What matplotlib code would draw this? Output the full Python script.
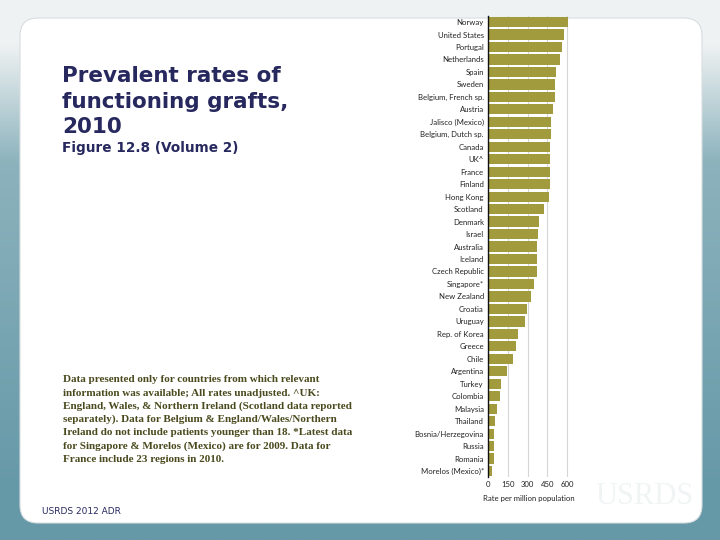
import matplotlib
matplotlib.use("Agg")
import matplotlib.pyplot as plt
import numpy as np
from matplotlib.patches import FancyBboxPatch

countries = ["Norway", "United States", "Portugal", "Netherlands", "Spain", "Sweden",
             "Belgium, French sp.", "Austria", "Jalisco (Mexico)", "Belgium, Dutch sp.",
             "Canada", "UK^", "France", "Finland", "Hong Kong", "Scotland", "Denmark",
             "Israel", "Australia", "Iceland", "Czech Republic", "Singapore*", "New Zealand",
             "Croatia", "Uruguay", "Rep. of Korea", "Greece", "Chile", "Argentina", "Turkey",
             "Colombia", "Malaysia", "Thailand", "Bosnia/Herzegovina", "Russia", "Romania",
             "Morelos (Mexico)*"]
rates = [605, 577, 565, 545, 515, 507, 505, 490, 482, 477, 470, 470, 470, 467, 465,
         425, 390, 380, 372, 370, 370, 350, 327, 297, 282, 230, 215, 192, 147, 102,
         90, 65, 50, 42, 42, 42, 27]
xticks = [0, 150, 300, 450, 600]

title = "Prevalent rates of\nfunctioning grafts,\n2010"
subtitle = "Figure 12.8 (Volume 2)"
note_lines = ["Data presented only for countries from which relevant",
              "information was available; All rates unadjusted. ^UK:",
              "England, Wales, & Northern Ireland (Scotland data reported",
              "separately). Data for Belgium & England/Wales/Northern",
              "Ireland do not include patients younger than 18. *Latest data",
              "for Singapore & Morelos (Mexico) are for 2009. Data for",
              "France include 23 regions in 2010."]
source = "USRDS 2012 ADR"

W, H = 720, 540
fig = plt.figure(figsize=(7.2, 5.4), dpi=100)

# background
bg = fig.add_axes([0, 0, 1, 1], zorder=0)
bg.set_xlim(0, W)
bg.set_ylim(H, 0)
bg.axis("off")
grad = np.linspace(0, 1, 256)
top = np.array([0.94, 0.95, 0.95])
mid = np.array([0.55, 0.70, 0.74])
bot = np.array([0.40, 0.60, 0.66])
t1 = np.clip((grad - 0.08) / 0.22, 0, 1)[:, None]
t2 = np.clip((grad - 0.30) / 0.6, 0, 1)[:, None]
img = top * (1 - t1) + mid * t1
img = img * (1 - t2) + bot * t2
bg.imshow(img[:, None, :].repeat(4, axis=1), extent=[0, W, H, 0], aspect="auto", zorder=0)
panel = FancyBboxPatch((34, 32), 654, 477, boxstyle="round,pad=14,rounding_size=18",
                       fc="white", ec="#d8dde0", lw=0.8, zorder=1)
bg.add_patch(panel)

bg.text(62, 66.5, title, fontsize=15.5, fontweight="bold", color="#27285e",
        va="top", ha="left", linespacing=1.32, zorder=2)
bg.text(62, 148, subtitle, fontsize=9.8, fontweight="bold", color="#27285e",
        va="center", ha="left", zorder=2)
for i, line in enumerate(note_lines):
    bg.text(63, 380 + i * 13.2, line, fontsize=8, fontweight="bold", color="#4a4a1e",
            family="Liberation Serif", va="center", ha="left", zorder=2)
bg.text(42, 512, source, fontsize=6.5, color="#27285e", va="center", ha="left", zorder=2)
bg.text(645, 497, "USRDS", fontsize=22, family="Liberation Serif", color="#f1f4f5",
        va="center", ha="center", zorder=2)

# chart
n = len(countries)
ax = fig.add_axes([488 / W, 1 - 477.3 / H, 81 / W, 461.5 / H], zorder=3)
ax.patch.set_alpha(0)
y = np.arange(n)
ax.barh(y, rates, height=0.82, color="#a29b3e", zorder=2)
ax.set_ylim(n - 0.5, -0.5)
ax.set_xlim(0, 615)
ax.set_yticks(y)
ax.set_yticklabels(countries, fontsize=5.6, color="#222222", family="Lato")
ax.set_xticks(xticks)
ax.set_xticklabels([str(v) for v in xticks], fontsize=5.6, color="#222222", family="Lato")
ax.tick_params(axis="both", length=0, pad=3)
ax.grid(axis="x", color="#d6d6d6", lw=0.8, zorder=0)
ax.set_axisbelow(True)
for s in ["top", "right", "bottom"]:
    ax.spines[s].set_visible(False)
ax.spines["left"].set_color("#111111")
ax.spines["left"].set_linewidth(1.0)
ax.set_xlabel("Rate per million population", fontsize=5.6, color="#222222",
              family="Lato", labelpad=5)

fig.savefig("out.png", dpi=100)
